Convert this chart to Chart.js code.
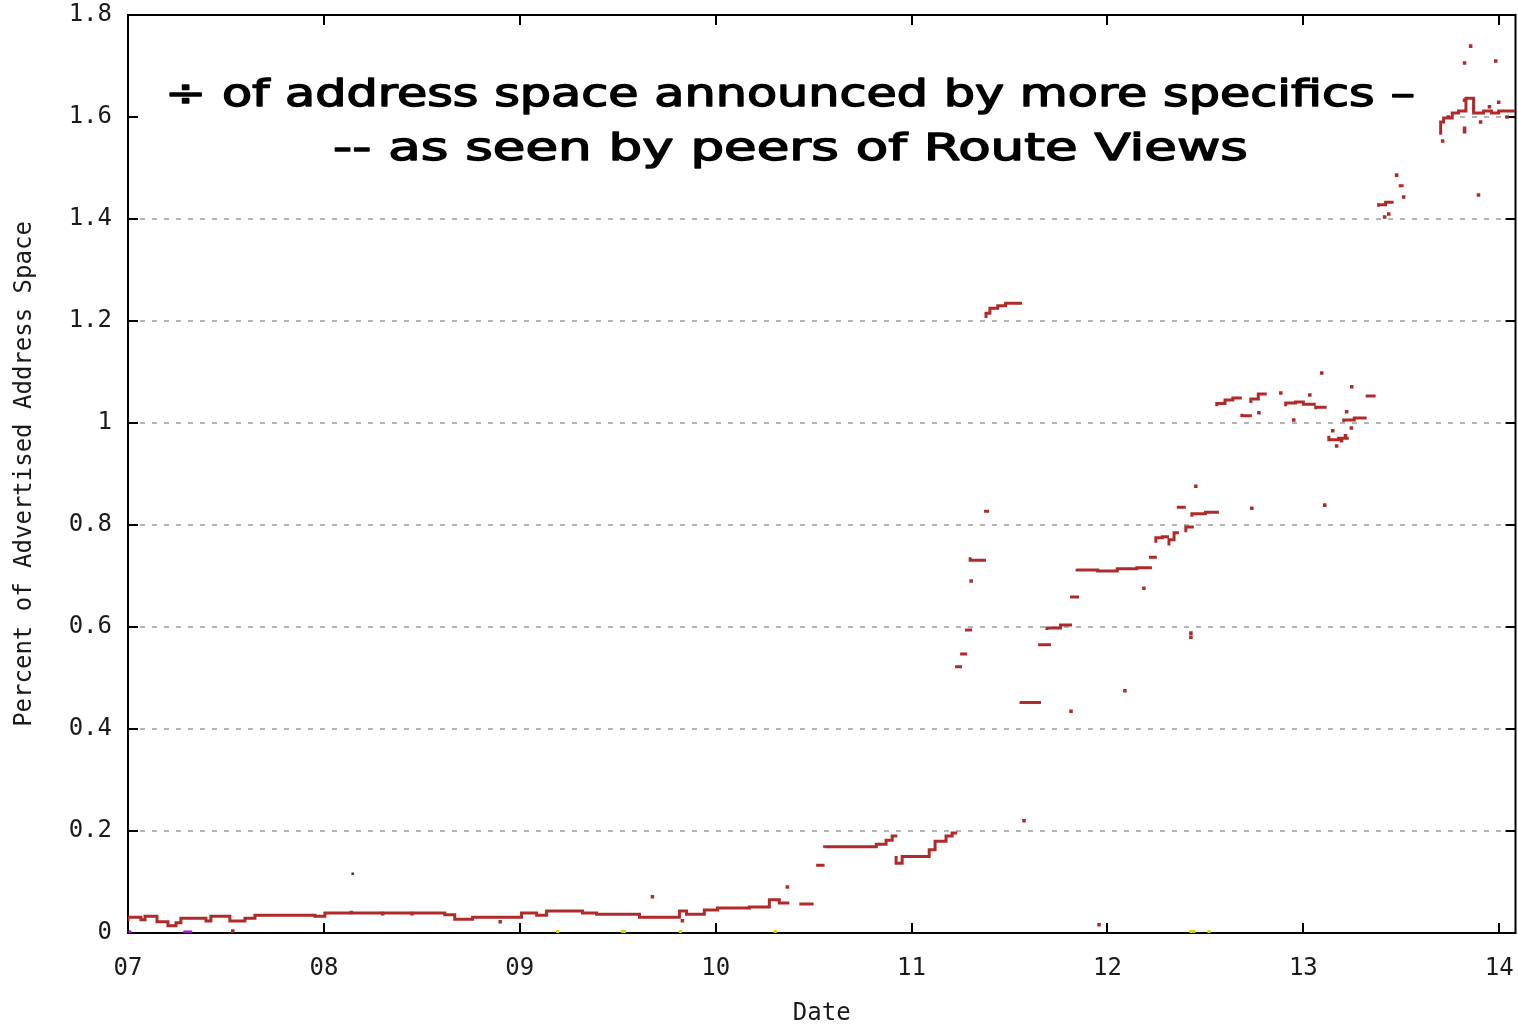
<!DOCTYPE html>
<html>
<head>
<meta charset="utf-8">
<title>More specifics - Route Views</title>
<script src="https://cdn.jsdelivr.net/npm/chart.js@4.4.1/dist/chart.umd.min.js"></script>
<style>
  html, body { margin: 0; padding: 0; background: #fff; }
  #chart { display: block; }
</style>
</head>
<body>
<canvas id="chart" width="1518" height="1025"></canvas>
<script>
// x is the year (7 = 2007), y is percent of advertised address space

const xTicks = [7, 8, 9, 10, 11, 12, 13, 14];
const yTicks = [0, 0.2, 0.4, 0.6, 0.8, 1, 1.2, 1.4, 1.6, 1.8];

const titleLines = [
  '÷ of address space announced by more specifics –',
  '-- as seen by peers of Route Views'
];

// main trace, drawn as steps; null = gap
const traceX = [
  7.000, 7.066, 7.087, 7.148, 7.204, 7.245, 7.270, 7.398, 7.423, 7.520,
  7.597, 7.648, 7.954, 8.005, 8.617, 8.668, 8.759, 9.009, 9.086, 9.137,
  9.320, 9.392, 9.611, 9.815, 9.851, 9.942, 10.009, 10.172, 10.274, 10.325,
  10.350, 10.376, null,
  10.427, 10.500, null,
  10.513, 10.556, null,
  10.556, 10.820, 10.870, 10.901, 10.927, null,
  10.921, 10.952, 11.090, 11.120, 11.176, 11.207, 11.233, null,
  11.222, 11.258, null,
  11.248, 11.284, null,
  11.273, 11.309, null,
  11.299, 11.350, 11.380, null,
  11.370, 11.396, null,
  11.380, 11.400, 11.440, 11.480, 11.564, null,
  11.559, 11.661, null,
  11.646, 11.712, null,
  11.691, 11.760, 11.819, null,
  11.809, 11.855, null,
  11.845, 11.950, 12.050, 12.150, 12.227, null,
  12.212, 12.252, null,
  12.247, 12.280, 12.314, null,
  12.314, 12.340, 12.365, null,
  12.354, 12.400, null,
  12.400, 12.441, null,
  12.431, 12.500, 12.569, null,
  12.558, 12.600, 12.640, 12.686, null,
  12.686, 12.737, null,
  12.732, 12.770, 12.813, null,
  12.910, 12.960, 13.000, 13.063, null,
  13.063, 13.119, null,
  13.130, 13.180, 13.232, null,
  13.206, 13.260, 13.323, null,
  13.318, 13.369, null,
  13.384, 13.420, 13.461, null,
  13.487, 13.512, null,
  13.701, 13.716, 13.760, 13.792, 13.830, 13.869, 13.920, 13.960, 13.997, 14.083
];
const traceY = [
  0.0235, 0.031, 0.026, 0.033, 0.022, 0.014, 0.020, 0.029, 0.0235, 0.033,
  0.0235, 0.029, 0.035, 0.033, 0.039, 0.036, 0.027, 0.031, 0.039, 0.035,
  0.043, 0.039, 0.037, 0.031, 0.043, 0.037, 0.045, 0.049, 0.051, 0.065,
  0.059, 0.059, null,
  0.057, 0.057, null,
  0.133, 0.133, null,
  0.167, 0.169, 0.174, 0.182, 0.190, null,
  0.151, 0.137, 0.150, 0.163, 0.180, 0.190, 0.196, null,
  0.522, 0.522, null,
  0.547, 0.547, null,
  0.594, 0.594, null,
  0.737, 0.731, 0.731, null,
  0.827, 0.827, null,
  1.206, 1.215, 1.225, 1.230, 1.235, null,
  0.449, 0.452, null,
  0.565, 0.565, null,
  0.594, 0.598, 0.604, null,
  0.659, 0.659, null,
  0.714, 0.712, 0.710, 0.714, 0.716, null,
  0.737, 0.737, null,
  0.765, 0.775, 0.777, null,
  0.760, 0.771, 0.785, null,
  0.835, 0.835, null,
  0.786, 0.796, null,
  0.816, 0.822, 0.825, null,
  1.033, 1.038, 1.045, 1.049, null,
  1.018, 1.014, null,
  1.039, 1.047, 1.057, null,
  1.033, 1.039, 1.041, 1.037, null,
  1.027, 1.031, null,
  0.975, 0.967, 0.970, null,
  1.002, 1.006, 1.010, null,
  1.053, 1.053, null,
  1.424, 1.428, 1.433, null,
  1.465, 1.465, null,
  1.565, 1.590, 1.598, 1.608, 1.612, 1.637, 1.608, 1.612, 1.608, 1.612
];

// single red samples off the trace
const strayX = [
  7.535, 8.140, 8.300, 8.450, 8.900, 9.677, 9.830, 10.366, 11.574, 11.957,
  12.089, 11.814, 11.304, 12.426, 12.426, 12.451, 12.186, 12.737, 13.109, 13.094,
  13.247, 12.885, 13.033, 12.951, 12.773, 13.221, 13.150, 13.170, 13.195, 13.215,
  13.245, 13.854, 13.823, 13.982, 13.894, 13.711, 13.476, 13.415, 13.436, 13.512,
  13.823, 13.823, 13.823, 13.997, 13.740, 13.905, 13.950, 14.040
];
const strayY = [
  0.004, 0.040, 0.038, 0.038, 0.022, 0.071, 0.024, 0.090, 0.220, 0.016,
  0.475, 0.435, 0.690, 0.588, 0.580, 0.876, 0.676, 0.833, 0.839, 1.098,
  1.071, 1.059, 1.055, 1.006, 1.020, 1.022, 0.985, 0.955, 0.965, 0.975,
  0.990, 1.739, 1.706, 1.710, 1.447, 1.553, 1.486, 1.404, 1.410, 1.443,
  1.578, 1.571, 1.633, 1.629, 1.600, 1.590, 1.620, 1.600
];

// other peers, near zero
const yellowX = [9.193, 9.524, 9.534, 9.820, 10.304, 12.426, 12.441, 12.518];
const yellowY = [0.003, 0.003, 0.003, 0.003, 0.003, 0.003, 0.003, 0.003];
const purpleX = [7.010, 7.290, 7.305, 7.320];
const purpleY = [0.002, 0.002, 0.002, 0.002];
const greyX = [8.147];
const greyY = [0.116];

function points(xs, ys) {
  return xs.map((x, i) => (ys[i] === null ? { x: xs[i - 1], y: null } : { x, y: ys[i] }));
}

const RED = '#b02a2a';
const MONO = '"DejaVu Sans Mono", monospace';

// gnuplot style frame, inward ticks and the pasted caption
const gnuplotFrame = {
  id: 'gnuplotFrame',
  beforeDatasetsDraw(chart) {
    const { ctx, chartArea: a, scales: { x, y } } = chart;
    ctx.save();

    // caption sits on a white patch that hides the 1.6 grid line
    ctx.fillStyle = '#fff';
    ctx.fillRect(a.left + 2, 32, 1440 - a.left, 155);

    ctx.strokeStyle = '#000';
    ctx.lineWidth = 2;
    ctx.beginPath();
    yTicks.forEach(v => {
      const py = Math.round(y.getPixelForValue(v));
      ctx.moveTo(a.left, py); ctx.lineTo(a.left + 10, py);
      ctx.moveTo(a.right, py); ctx.lineTo(a.right - 10, py);
    });
    xTicks.forEach(v => {
      const px = Math.round(x.getPixelForValue(v));
      ctx.moveTo(px, a.bottom); ctx.lineTo(px, a.bottom - 10);
      ctx.moveTo(px, a.top); ctx.lineTo(px, a.top + 10);
    });
    ctx.stroke();
    ctx.strokeRect(a.left, a.top, a.right - a.left, a.bottom - a.top);

    // caption: book weight with a thin outline, roughly a marker pen
    ctx.fillStyle = '#000';
    ctx.strokeStyle = '#000';
    ctx.lineWidth = 1.4;
    ctx.lineJoin = 'round';
    ctx.font = '38px "DejaVu Sans"';
    ctx.textBaseline = 'alphabetic';
    const boxes = [
      { left: 165, width: 1250, base: 106 },
      { left: 333, width: 915, base: 160 }
    ];
    titleLines.forEach((t, i) => {
      const b = boxes[i];
      const w = ctx.measureText(t).width;
      ctx.save();
      ctx.translate(b.left, b.base);
      ctx.scale(b.width / w, 1);
      ctx.fillText(t, 0, 0);
      ctx.strokeText(t, 0, 0);
      ctx.restore();
    });
    ctx.restore();
  }
};

const dot = (color, r) => ({
  showLine: false,
  pointStyle: 'rect',
  pointRadius: r,
  pointBorderWidth: 0,
  pointBackgroundColor: color,
  pointHoverRadius: r
});

new Chart(document.getElementById('chart'), {
  type: 'scatter',
  data: {
    datasets: [
      {
        data: points(traceX, traceY),
        showLine: true,
        stepped: 'after',
        spanGaps: false,
        borderColor: RED,
        borderWidth: 3,
        pointRadius: 0
      },
      { data: points(strayX, strayY), ...dot(RED, 2.5) },
      { data: points(yellowX, yellowY), ...dot('#d4d400', 2.2) },
      { data: points(purpleX, purpleY), ...dot('#a010d0', 2.2) },
      { data: points(greyX, greyY), ...dot('#333', 1.8) }
    ]
  },
  options: {
    responsive: false,
    animation: false,
    devicePixelRatio: 1,
    layout: { padding: { top: 15, right: 1, left: 0, bottom: 0 } },
    plugins: {
      legend: { display: false },
      tooltip: { enabled: false }
    },
    scales: {
      x: {
        type: 'linear',
        min: 7,
        max: 14.083,
        afterFit: s => { s.height = 92; s.paddingLeft = 0; s.paddingRight = 0; },
        afterBuildTicks: s => { s.ticks = xTicks.map(v => ({ value: v })); },
        grid: { display: false, drawTicks: false },
        border: { display: false },
        ticks: {
          padding: 21,
          color: '#1a1a1a',
          font: { family: MONO, size: 24 },
          callback: v => String(v).padStart(2, '0')
        },
        title: {
          display: true,
          text: 'Date',
          color: '#1a1a1a',
          font: { family: MONO, size: 24 },
          padding: { top: 0, bottom: -3 }
        }
      },
      y: {
        type: 'linear',
        min: 0,
        max: 1.8,
        afterFit: s => { s.width = 128; s.paddingTop = 0; s.paddingBottom = 0; },
        afterBuildTicks: s => { s.ticks = yTicks.map(v => ({ value: v })); },
        grid: {
          drawTicks: false,
          lineWidth: 2,
          color: c => (c.tick && c.tick.value > 0 && c.tick.value < 1.8 ? '#b4b4b4' : 'rgba(0,0,0,0)')
        },
        border: { display: false, dash: [5, 7] },
        ticks: {
          padding: 16,
          color: '#1a1a1a',
          font: { family: MONO, size: 24 },
          callback: v => String(+v.toFixed(1))
        },
        title: {
          display: true,
          text: 'Percent of Advertised Address Space',
          color: '#1a1a1a',
          font: { family: MONO, size: 24 },
          padding: { top: 10, bottom: 0 }
        }
      }
    }
  },
  plugins: [gnuplotFrame]
});
</script>
</body>
</html>
